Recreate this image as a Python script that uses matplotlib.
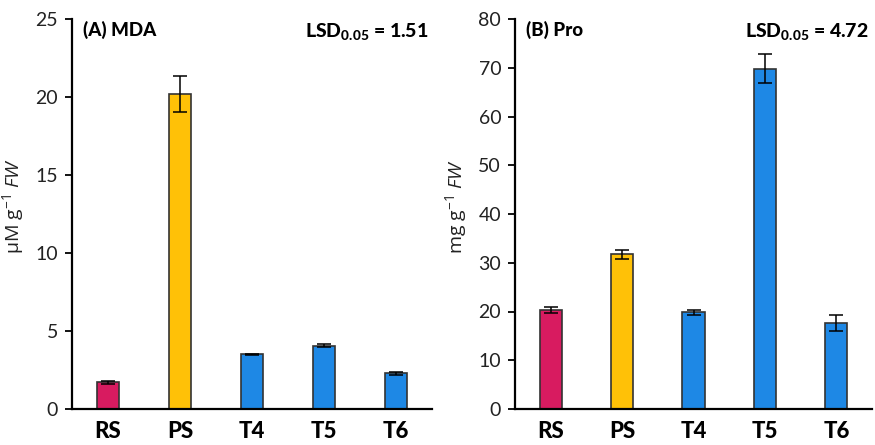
import matplotlib
matplotlib.use("Agg")
import matplotlib.pyplot as plt

plt.rcParams['font.family'] = ['Lato', 'DejaVu Sans']
plt.rcParams['mathtext.fontset'] = 'custom'
plt.rcParams['mathtext.rm'] = 'Open Sans'
plt.rcParams['mathtext.it'] = 'Open Sans:italic'
plt.rcParams['mathtext.bf'] = 'Lato:black'

categories = ["RS", "PS", "T4", "T5", "T6"]
colors = ["#D81B60", "#FFC107", "#1E88E5", "#1E88E5", "#1E88E5"]

mda_values = [1.7, 20.2, 3.5, 4.05, 2.3]
mda_errors = [0.1, 1.15, 0.05, 0.1, 0.1]

pro_values = [20.3, 31.7, 19.8, 69.8, 17.6]
pro_errors = [0.7, 0.9, 0.5, 3.0, 1.7]

fig = plt.figure(figsize=(8.75, 4.45), dpi=100)
ax1 = fig.add_axes([0.0823, 0.081, 0.4114, 0.876])
ax2 = fig.add_axes([0.5886, 0.081, 0.4080, 0.876])

panels = [
    (ax1, mda_values, mda_errors, 25, 5, "(A) MDA", "1.51", r"μM g$^{\mathrm{-1}}$ $\it{FW}$"),
    (ax2, pro_values, pro_errors, 80, 10, "(B) Pro", "4.72", r"mg g$^{\mathrm{-1}}$ $\it{FW}$"),
]

for ax, vals, errs, ymax, step, title, lsd, ylabel in panels:
    x = range(len(categories))
    ax.bar(x, vals, width=0.31, color=colors, edgecolor="#333333", linewidth=1.2,
           yerr=errs, capsize=5, error_kw=dict(ecolor="black", elinewidth=1.1, capthick=1.1))
    ax.set_xlim(-0.5, 4.5)
    ax.set_ylim(0, ymax)
    ax.set_yticks(range(0, ymax + 1, step))
    ax.set_xticks(list(x))
    ax.set_xticklabels(categories, fontsize=16, fontweight="black")
    ax.tick_params(axis="x", length=0, pad=9)
    ax.tick_params(axis="y", direction="out", length=5, width=1.3, labelsize=14,
                   pad=5, labelcolor="#222222")
    for s in ["top", "right"]:
        ax.spines[s].set_visible(False)
    for s in ["left", "bottom"]:
        ax.spines[s].set_linewidth(1.6)
        ax.spines[s].set_color("black")
    ax.set_ylabel(ylabel, fontsize=14, color="#222222", family="Open Sans")
    ax.yaxis.set_label_coords(-0.128, 0.52)
    ax.text(0.03, 0.995, title, transform=ax.transAxes, fontsize=13.5, fontweight="black",
            va="top", ha="left")
    ax.text(0.99, 0.995, r"LSD$_{\mathbf{0.05}}$ = " + lsd, transform=ax.transAxes,
            fontsize=14, fontweight="black", va="top", ha="right")

fig.savefig("out.png", dpi=100)
